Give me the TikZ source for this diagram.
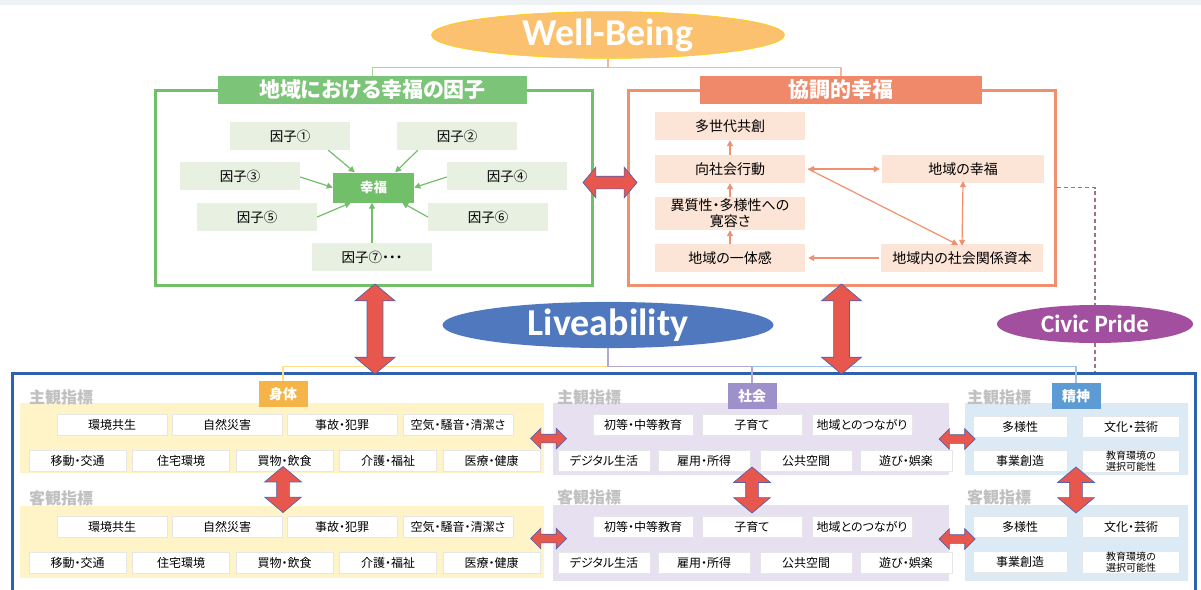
\documentclass[tikz,border=0pt]{standalone}
\usepackage{fontspec}
\setmainfont{Carlito}
\newfontfamily\jp{Noto Sans CJK JP}[RawFeature=+palt]
\usetikzlibrary{shapes.geometric,shapes.arrows,arrows.meta,calc}
\definecolor{topband}{HTML}{EEF2F5}
\definecolor{gframe}{HTML}{72BF6A}
\definecolor{gtitle}{HTML}{7CC477}
\definecolor{gfac}{HTML}{E8F0E1}
\definecolor{gline}{HTML}{A8D5A0}
\definecolor{oframe}{HTML}{F1906E}
\definecolor{otitle}{HTML}{F0896A}
\definecolor{obg}{HTML}{FCE4D6}
\definecolor{oline}{HTML}{F5B69B}
\definecolor{wbfill}{HTML}{FBC16E}
\definecolor{livefill}{HTML}{4F78BE}
\definecolor{cpfill}{HTML}{A24F9F}
\definecolor{framecol}{HTML}{2E62AD}
\definecolor{ypanel}{HTML}{FFF3C8}
\definecolor{ylab}{HTML}{F5B447}
\definecolor{yline}{HTML}{FFE08A}
\definecolor{ppanel}{HTML}{E6E0F0}
\definecolor{plab}{HTML}{9E90CA}
\definecolor{pline}{HTML}{B4A7D6}
\definecolor{bpanel}{HTML}{DCEAF6}
\definecolor{blab}{HTML}{5C9BD3}
\definecolor{bline}{HTML}{9DC3E6}
\definecolor{arrred}{HTML}{E8574E}
\definecolor{arrblue}{HTML}{5560A8}
\definecolor{dashcol}{HTML}{A06F8C}
\definecolor{subgray}{HTML}{C0C0C0}
\definecolor{cellline}{HTML}{E6E6E6}
\begin{document}
\begin{tikzpicture}[x=1pt,y=-1pt,
  jpbox/.style={inner sep=0, font=\jp\fontsize{13.5}{16}\selectfont, text=black},
  gfacbox/.style={jpbox, fill=gfac, minimum width=120, minimum height=28},
  obox/.style={jpbox, fill=obg, minimum width=150, minimum height=28, font=\jp\fontsize{14}{17}\selectfont},
  garr/.style={draw=gframe, line width=1.2, -{Triangle[length=6,width=6]}},
  oarr/.style={draw=oframe, line width=1.2, -{Triangle[length=6,width=6]}},
  oarrb/.style={draw=oframe, line width=1.2, {Triangle[length=6,width=6]}-{Triangle[length=6,width=6]}},
  titlebar/.style={inner sep=0, minimum height=28, text=white, font=\jp\bfseries\fontsize{21}{24}\selectfont},
  oval/.style={ellipse, inner sep=0, text=white},
  cell/.style={inner sep=0, fill=white, draw=cellline, line width=0.6, minimum height=21, font=\jp\fontsize{12}{14}\selectfont},
  panel/.style={inner sep=0},
  sublab/.style={anchor=west, inner sep=0, text=subgray, font=\jp\bfseries\fontsize{16}{18}\selectfont},
  seclab/.style={inner sep=0, minimum width=49, minimum height=26, text=white, font=\jp\bfseries\fontsize{14}{16}\selectfont},
  arrsty/.style={double arrow, fill=arrred, draw=arrblue, line width=0.7},
  bigV/.style={arrsty, inner sep=7.5, minimum height=90, minimum width=40, double arrow head extend=12, double arrow tip angle=100, rotate=90},
  bigH/.style={arrsty, inner sep=6, minimum height=54, minimum width=30, double arrow head extend=9, double arrow tip angle=100},
  smallV/.style={arrsty, inner sep=6, minimum height=46, minimum width=36, double arrow head extend=12, double arrow tip angle=100, rotate=90},
  smallH/.style={arrsty, inner sep=4, minimum height=36, minimum width=20, double arrow head extend=6, double arrow tip angle=90},
  dsh/.style={draw=dashcol, line width=1.2, dash pattern=on 4pt off 3pt}
]
\useasboundingbox (0,0) rectangle (1201,589);
\fill[white] (0,0) rectangle (1201,589);
\fill[topband] (0,0) rectangle (1201,5);

% ---------- top ovals ----------
\node[oval, fill=wbfill, draw=yellow!70!orange, line width=0.6, minimum width=353, minimum height=40,
      font=\bfseries\fontsize{38}{40}\selectfont] (wb) at (608,35) {Well-Being};

% ---------- green box ----------
\node[draw=gframe, line width=3, minimum width=437, minimum height=195, inner sep=0] (gbox) at (373.5,187.5) {};
\node[titlebar, fill=gtitle, minimum width=309] (gtitle) at (372.5,90) {地域における幸福の因子};
\node[gfacbox] (f1) at (290,136) {因子①};
\node[gfacbox] (f2) at (457,136) {因子②};
\node[gfacbox] (f3) at (240,176) {因子③};
\node[gfacbox] (f4) at (507,176) {因子④};
\node[gfacbox] (f5) at (257,217) {因子⑤};
\node[gfacbox] (f6) at (488,217) {因子⑥};
\node[gfacbox] (f7) at (372,257) {因子⑦・・・};
\node[inner sep=0, fill=gframe, minimum width=81, minimum height=30, text=white,
      font=\jp\bfseries\fontsize{13.5}{16}\selectfont] (hf) at (373.5,187.5) {幸福};
\draw[garr] ([xshift=-22]f1.south east) -- ([xshift=22]hf.north west);
\draw[garr] ([xshift=21]f2.south west) -- ([xshift=-19]hf.north east);
\draw[garr] ([yshift=-1]f3.east) -- ([yshift=0]hf.west);
\draw[garr] ([yshift=-1]f4.west) -- ([yshift=0]hf.east);
\draw[garr] ([yshift=0]f5.east) -- ([xshift=18]hf.south west);
\draw[garr] ([yshift=0]f6.west) -- ([xshift=-12]hf.south east);
\draw[garr] (f7.north) -- (f7.north |- hf.south);

% ---------- orange box ----------
\node[draw=oframe, line width=3, minimum width=427, minimum height=195, inner sep=0] (obox) at (841.5,187.5) {};
\node[titlebar, fill=otitle, minimum width=282] (otitle) at (841,90) {協調的幸福};
\node[obox] (tc) at (730,126) {多世代共創};
\node[obox] (ko) at (730,169) {向社会行動};
\node[obox, minimum height=33, align=center, font=\jp\fontsize{14}{16}\selectfont] (ih) at (730,213.5) {異質性・多様性への\\寛容さ};
\node[obox] (it) at (730,258) {地域の一体感};
\node[obox, minimum width=162] (cw) at (963,169) {地域の幸福};
\node[obox, minimum width=162] (sc) at (962,258) {地域内の社会関係資本};
\draw[oarr] (ko.north) -- (tc.south);
\draw[oarr] (ih.north) -- (ko.south);
\draw[oarr] (it.north) -- (ih.south);
\draw[oarrb] ([xshift=3]ko.east) -- ([xshift=-2]cw.west);
\draw[oarr] ([xshift=3]ko.east) -- ([xshift=-4,yshift=-1]sc.north);
\draw[oarrb] ([yshift=2]cw.south) -- ([yshift=-2]sc.north);
\draw[oarr] ([xshift=-2]sc.west) -- ([xshift=3]it.east);

% ---------- Well-Being connectors ----------
\draw[oline, line width=1.5] (wb.south) -- ++(0,9) -| (otitle.north);
\draw[gline, line width=1.5] ($(wb.south)+(0,9)$) -| (gtitle.north);

% ---------- bottom frame ----------
\node[draw=framecol, line width=3, minimum width=1183, minimum height=227, inner sep=0] (frame) at (603.5,486.5) {};

% ---------- middle ovals ----------
\node[oval, fill=livefill, minimum width=331, minimum height=40,
      font=\bfseries\fontsize{38}{40}\selectfont] (live) at (608,325) {Liveability};
\node[oval, fill=cpfill, minimum width=196, minimum height=38,
      font=\bfseries\fontsize{25}{28}\selectfont] (cp) at (1095,324) {Civic Pride};

% ---------- panels ----------
\node[panel, fill=ypanel, minimum width=524, minimum height=70] (y1) at (282,438) {};
\node[panel, fill=ypanel, minimum width=524, minimum height=72] (y2) at (282,542) {};
\node[panel, fill=ppanel, minimum width=396, minimum height=72] (p1) at (751,439) {};
\node[panel, fill=ppanel, minimum width=396, minimum height=76] (p2) at (751,543) {};
\node[panel, fill=bpanel, minimum width=223, minimum height=72] (b1) at (1076.5,439) {};
\node[panel, fill=bpanel, minimum width=223, minimum height=76] (b2) at (1076.5,543) {};

\node[sublab] (ys) at (29,397) {主観指標};
\node[sublab] (yo) at (29,498) {客観指標};
\node[sublab] (ps) at (557,397) {主観指標};
\node[sublab] (po) at (557,497) {客観指標};
\node[sublab] (bs) at (967,397) {主観指標};
\node[sublab] (bo) at (967,497) {客観指標};

\node[seclab, fill=ylab] (shintai) at (283,394) {身体};
\node[seclab, fill=plab] (shakai) at (752,396) {社会};
\node[seclab, fill=blab] (seishin) at (1076,396) {精神};

% ---------- Liveability connectors ----------
\draw[yline, line width=1.5] ($(live.south)+(0,18)$) -| (shintai.north);
\draw[pline, line width=1.5] (live.south) -- ++(0,18) -| (shakai.north);
\draw[bline, line width=1.5] ($(shakai.north |- live.south)+(0,18)$) -| (seishin.north);

% ---------- Civic Pride dashed ----------
\draw[dsh] (obox.east) -| (cp.north);
\draw[dsh] (cp.south) -- (cp.south |- frame.north);

% ---------- cells: body ----------
\foreach \yy/\nm in {425/a,527/c}{
  \foreach \t/\x [count=\i] in {環境共生/112,自然災害/227,事故・犯罪/342,空気・騒音・清潔さ/458}
    \node[cell, minimum width=110] (y\nm\i) at (\x,\yy) {\t};
}
\foreach \yy/\nm in {461/b,563/d}{
  \foreach \t/\x [count=\i] in {移動・交通/77.5,住宅環境/181,買物・飲食/284.5,介護・福祉/388,医療・健康/491.5}
    \node[cell, minimum width=97] (y\nm\i) at (\x,\yy) {\t};
}
% ---------- cells: society ----------
\foreach \yy/\nm in {425/a,527/c}{
  \foreach \t/\x [count=\i] in {初等・中等教育/643,子育て/752,地域とのつながり/862}
    \node[cell, minimum width=100] (p\nm\i) at (\x,\yy) {\t};
}
\foreach \yy/\nm in {461/b,563/d}{
  \foreach \t/\x [count=\i] in {デジタル生活/604,雇用・所得/704,公共空間/806,遊び・娯楽/906}
    \node[cell, minimum width=92] (p\nm\i) at (\x,\yy) {\t};
}
% ---------- cells: spirit ----------
\foreach \yy/\nm in {427/a,527/c}{
  \node[cell, minimum width=94] (b\nm1) at (1020,\yy) {多様性};
  \node[cell, minimum width=97] (b\nm2) at (1131,\yy) {文化・芸術};
}
\foreach \yy/\nm in {461/b,562/d}{
  \node[cell, minimum width=94] (b\nm1) at (1020,\yy) {事業創造};
  \node[cell, minimum width=97, minimum height=22, align=center, font=\jp\fontsize{10}{11.5}\selectfont] (b\nm2) at (1131,\yy) {教育環境の\\選択可能性};
}

% ---------- red double arrows ----------
\node[bigH] (aGO) at ($(gbox.east)!0.5!(obox.west)+(0,-5)$) {};
\node[bigV] (aGL) at ($(gbox.south)!0.5!(gbox.south |- frame.north)+(1.5,0)$) {};
\node[bigV] (aOL) at ($(obox.south)!0.5!(obox.south |- frame.north)$) {};
\node[smallV] (aY) at ($(y1.south -| shintai.south)!0.5!(y2.north -| shintai.south)$) {};
\node[smallV] (aP) at ($(p1.south -| shakai.south)!0.5!(p2.north -| shakai.south)$) {};
\node[smallV] (aB) at ($(b1.south -| seishin.south)!0.5!(b2.north -| seishin.south)$) {};
\node[smallH] (aYP1) at ($(y1.east)!0.5!(p1.west)$) {};
\node[smallH] (aYP2) at ($(y2.east)!0.5!(p2.west)+(0,-4)$) {};
\node[smallH] (aPB1) at ($(p1.east)!0.5!(b1.west)$) {};
\node[smallH] (aPB2) at ($(p2.east)!0.5!(b2.west)+(0,-4)$) {};
\end{tikzpicture}
\end{document}
